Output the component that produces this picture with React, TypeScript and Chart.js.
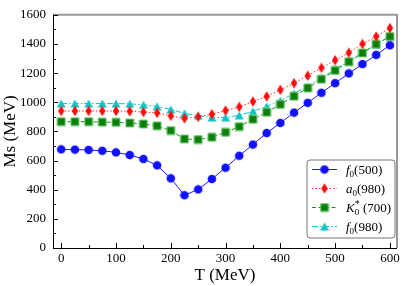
import React, { useEffect, useRef } from "react";
import { Chart, registerables } from "chart.js";

Chart.register(...registerables);

const temperatures = [0, 25, 50, 75, 100, 125, 150, 175, 200, 225, 250, 275, 300, 325, 350, 375, 400, 425, 450, 475, 500, 525, 550, 575, 600];
const f0_500 = [677, 675, 673, 667, 656, 638, 611, 567, 478, 362, 402, 473, 551, 633, 710, 789, 858, 929, 996, 1065, 1131, 1198, 1262, 1325, 1391];
const a0_980 = [940, 940, 940, 940, 940, 938, 933, 927, 907, 889, 900, 918, 943, 968, 1005, 1040, 1085, 1131, 1182, 1236, 1289, 1340, 1400, 1451, 1509];
const k0_700 = [867, 867, 867, 864, 862, 858, 851, 838, 806, 748, 744, 760, 794, 833, 883, 931, 985, 1042, 1098, 1158, 1218, 1278, 1338, 1398, 1451];
const f0_980 = [991, 991, 991, 991, 991, 989, 983, 972, 951, 924, 907, 896, 896, 910, 938, 971, 1011, 1060, 1111, 1167, 1225, 1282, 1340, 1396, 1456];

const xTickValues = [0, 100, 200, 300, 400, 500, 600];
const xMinorValues = [50, 150, 250, 350, 450, 550];
const yTickValues = [0, 200, 400, 600, 800, 1000, 1200, 1400, 1600];
const yMinorValues = [100, 300, 500, 700, 900, 1100, 1300, 1500];

const xTitle = "T (MeV)";
const yTitle = "Ms (MeV)";

type Part = { t?: string; italic?: boolean; sub?: string; sup?: string };
const legendLabels: Part[][] = [
  [{ t: "f", italic: true }, { sub: "0" }, { t: "(500)" }],
  [{ t: "a", italic: true }, { sub: "0" }, { t: "(980)" }],
  [{ t: "K", italic: true }, { sub: "0", sup: "*" }, { t: " (700)" }],
  [{ t: "f", italic: true }, { sub: "0" }, { t: "(980)" }],
];

const SERIF = "'Liberation Serif', 'DejaVu Serif', serif";

function makeMarker(kind: string, fill: string, edge: string): HTMLCanvasElement {
  const c = document.createElement("canvas");
  let w = 10, h = 10;
  if (kind === "diamond") { w = 8; h = 11; }
  if (kind === "triangle") { w = 10; h = 9; }
  c.width = w; c.height = h;
  const g = c.getContext("2d")!;
  g.fillStyle = fill;
  g.strokeStyle = edge;
  g.lineWidth = 1;
  g.beginPath();
  if (kind === "circle") {
    g.arc(w / 2, h / 2, 4.3, 0, Math.PI * 2);
    g.fill();
  } else if (kind === "diamond") {
    g.moveTo(w / 2, 0.3);
    g.lineTo(w - 0.8, h / 2);
    g.lineTo(w / 2, h - 0.3);
    g.lineTo(0.8, h / 2);
    g.closePath();
    g.fill();
  } else if (kind === "square") {
    g.rect(1, 1, 8, 8);
    g.fill();
    g.stroke();
  } else {
    g.moveTo(w / 2, 0.5);
    g.lineTo(w - 0.5, h - 0.5);
    g.lineTo(0.5, h - 0.5);
    g.closePath();
    g.fill();
  }
  return c;
}

export default function App() {
  const ref = useRef<HTMLCanvasElement | null>(null);

  useEffect(() => {
    document.body.style.margin = "0";
    const canvas = ref.current!;
    const markers = [
      makeMarker("circle", "#1010ff", "#1010ff"),
      makeMarker("diamond", "#ff0a0a", "#ff0a0a"),
      makeMarker("square", "#0a800a", "#7ccf7c"),
      makeMarker("triangle", "#10c4c4", "#10c4c4"),
    ];
    const colors = ["#1a1aff", "#ff2a2a", "#1a8a1a", "#20c0c0"];
    const dashes = [[], [1.5, 2], [4, 2.5], [6, 2, 1.5, 2]];
    const series = [f0_500, a0_980, k0_700, f0_980];

    const decor = {
      id: "decor",
      afterDraw(chart: any) {
        const ctx = chart.ctx as CanvasRenderingContext2D;
        const a = chart.chartArea;
        const xs = chart.scales.x;
        const ys = chart.scales.y;
        ctx.save();
        // frame
        ctx.strokeStyle = "#999";
        ctx.lineWidth = 2;
        ctx.beginPath();
        ctx.moveTo(a.left, a.top);
        ctx.lineTo(a.right, a.top);
        ctx.lineTo(a.right, a.bottom);
        ctx.stroke();
        ctx.strokeStyle = "#000";
        ctx.lineWidth = 1;
        ctx.beginPath();
        ctx.moveTo(a.left + 0.5, a.top);
        ctx.lineTo(a.left + 0.5, a.bottom + 0.5);
        ctx.lineTo(a.right, a.bottom + 0.5);
        ctx.stroke();
        // ticks
        ctx.beginPath();
        const tick = (v: number, len: number, axis: "x" | "y") => {
          if (axis === "x") {
            const px = Math.round(xs.getPixelForValue(v)) + 0.5;
            ctx.moveTo(px, a.bottom);
            ctx.lineTo(px, a.bottom - len);
          } else {
            const py = Math.round(ys.getPixelForValue(v)) + 0.5;
            ctx.moveTo(a.left, py);
            ctx.lineTo(a.left + len, py);
          }
        };
        xTickValues.forEach((v) => tick(v, 5, "x"));
        xMinorValues.forEach((v) => tick(v, 3, "x"));
        yTickValues.forEach((v) => tick(v, 5, "y"));
        yMinorValues.forEach((v) => tick(v, 3, "y"));
        ctx.stroke();
        // titles
        ctx.fillStyle = "#000";
        ctx.font = `17px ${SERIF}`;
        ctx.textAlign = "center";
        ctx.textBaseline = "middle";
        ctx.fillText(xTitle, (a.left + a.right) / 2, 276);
        ctx.save();
        ctx.translate(11, (a.top + a.bottom) / 2);
        ctx.rotate(-Math.PI / 2);
        ctx.fillText(yTitle, 0, 0);
        ctx.restore();
        // legend
        const lx = 307, ly = 160, lw = 88, lh = 78;
        ctx.beginPath();
        const r = 3;
        ctx.moveTo(lx + r, ly);
        ctx.arcTo(lx + lw, ly, lx + lw, ly + lh, r);
        ctx.arcTo(lx + lw, ly + lh, lx, ly + lh, r);
        ctx.arcTo(lx, ly + lh, lx, ly, r);
        ctx.arcTo(lx, ly, lx + lw, ly, r);
        ctx.closePath();
        ctx.fillStyle = "#fff";
        ctx.fill();
        ctx.strokeStyle = "#777";
        ctx.lineWidth = 1;
        ctx.stroke();
        legendLabels.forEach((parts, i) => {
          const y = 169 + i * 19;
          ctx.strokeStyle = colors[i];
          ctx.lineWidth = 1;
          ctx.setLineDash(dashes[i]);
          ctx.beginPath();
          ctx.moveTo(312, y + 0.5);
          ctx.lineTo(337, y + 0.5);
          ctx.stroke();
          ctx.setLineDash([]);
          const m = markers[i];
          ctx.drawImage(m, 324.5 - m.width / 2, y - m.height / 2 + 0.5);
          let x = 346;
          ctx.fillStyle = "#000";
          ctx.textAlign = "left";
          ctx.textBaseline = "alphabetic";
          const base = y + 5;
          parts.forEach((p) => {
            if (p.t !== undefined) {
              ctx.font = `${p.italic ? "italic " : ""}13px ${SERIF}`;
              ctx.fillText(p.t, x, base);
              x += ctx.measureText(p.t).width;
            } else {
              let w = 0;
              if (p.sub) {
                ctx.font = `9px ${SERIF}`;
                ctx.fillText(p.sub, x, base + 3);
                w = Math.max(w, ctx.measureText(p.sub).width);
              }
              if (p.sup) {
                ctx.font = `10px ${SERIF}`;
                ctx.fillText(p.sup, x, base - 5);
                w = Math.max(w, ctx.measureText(p.sup).width);
              }
              x += w;
            }
          });
        });
        ctx.restore();
      },
    };

    const chart = new Chart(canvas, {
      type: "line",
      data: {
        datasets: series.map((s, i) => ({
          label: ["f0(500)", "a0(980)", "K0*(700)", "f0(980)"][i],
          data: temperatures.map((t, j) => ({ x: t, y: s[j] })),
          borderColor: colors[i],
          borderWidth: 1,
          borderDash: dashes[i],
          pointStyle: markers[i] as any,
          pointRadius: 5,
          fill: false,
          tension: 0,
        })),
      },
      options: {
        animation: false,
        responsive: false,
        layout: { padding: { top: 7, right: 5, left: 0, bottom: 0 } },
        plugins: { legend: { display: false }, tooltip: { enabled: false } },
        scales: {
          x: {
            type: "linear",
            min: -15,
            max: 613,
            afterBuildTicks: (s: any) => {
              s.ticks = xTickValues.map((v) => ({ value: v }));
            },
            afterFit: (s: any) => {
              s.height = 38;
            },
            grid: { display: false, drawTicks: false },
            border: { display: false },
            ticks: { color: "#000", font: { family: SERIF, size: 13 }, padding: 3, maxRotation: 0, callback: (v: any) => String(v) },
          },
          y: {
            type: "linear",
            min: 0,
            max: 1600,
            afterBuildTicks: (s: any) => {
              s.ticks = yTickValues.map((v) => ({ value: v }));
            },
            afterFit: (s: any) => {
              s.width = 53;
            },
            grid: { display: false, drawTicks: false },
            border: { display: false },
            ticks: { color: "#000", font: { family: SERIF, size: 13 }, padding: 7, callback: (v: any) => String(v) },
          },
        },
      },
      plugins: [decor],
    } as any);
    return () => chart.destroy();
  }, []);

  return (
    <div style={{ position: "absolute", left: 0, top: 0, width: 403, height: 286 }}>
      <canvas ref={ref} width={403} height={286} style={{ width: 403, height: 286 }} />
    </div>
  );
}
